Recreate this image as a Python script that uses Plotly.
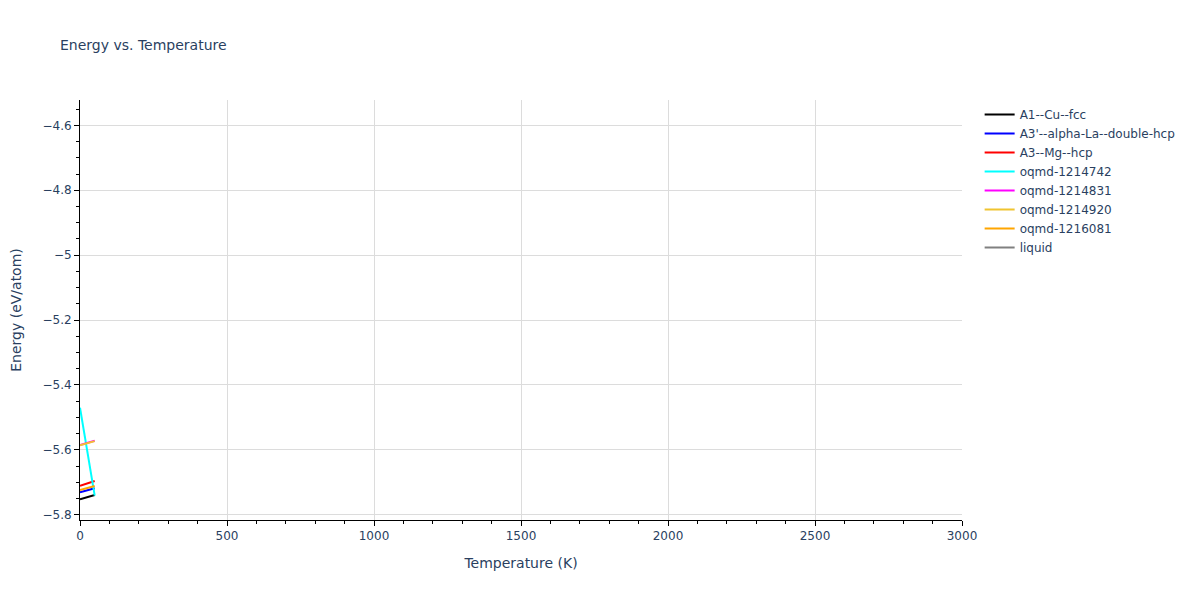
import plotly.graph_objects as go

# temperatura (K) y energía (eV/atom)
temperatura = [0, 50]

fases = ['A1--Cu--fcc', "A3'--alpha-La--double-hcp", 'A3--Mg--hcp', 'oqmd-1214742',
         'oqmd-1214831', 'oqmd-1214920', 'oqmd-1216081', 'liquid']
colores = ['black', 'blue', 'red', 'cyan', 'magenta', '#f0c430', 'orange', 'grey']

e_cu_fcc = [-5.752, -5.739]
e_la_dhcp = [-5.731, -5.718]
e_mg_hcp = [-5.711, -5.696]
e_1214742 = [-5.470, -5.741]
e_1214831 = [-5.585, -5.572]
e_1214920 = [-5.586, -5.573]
e_1216081 = [-5.724, -5.711]
e_liquid = [None]

energias = [e_cu_fcc, e_la_dhcp, e_mg_hcp, e_1214742, e_1214831, e_1214920, e_1216081, e_liquid]

fig = go.Figure()
for nombre, color, e in zip(fases, colores, energias):
    fig.add_trace(go.Scatter(x=temperatura[:len(e)], y=e, mode='lines', name=nombre,
                             line=dict(color=color, width=2)))

ejes = dict(showline=True, linecolor='black', linewidth=1, ticks='outside', tickcolor='black',
            gridcolor='#dcdcdc', zeroline=False, mirror=False)
fig.update_xaxes(title='Temperature (K)', range=[0, 3000], dtick=500,
                 minor=dict(ticks='outside', dtick=100, tickcolor='black', showgrid=False), **ejes)
fig.update_yaxes(title=dict(text='Energy (eV/atom)', standoff=24), range=[-5.816, -4.522], dtick=0.2,
                 minor=dict(ticks='outside', dtick=0.05, tickcolor='black', showgrid=False), **ejes)
# la página tiene 8px de margen, se compensa en los márgenes
fig.update_layout(title=dict(text='Energy vs. Temperature', font=dict(size=14), x=0.0433,
                             y=0.938, yanchor='middle'),
                  width=1200, height=600,
                  margin=dict(l=72, t=92, b=88, r=246, autoexpand=False),
                  plot_bgcolor='white', paper_bgcolor='white',
                  font=dict(family='DejaVu Sans, Verdana', size=12, color='#2a3f5f'))
fig.write_html('out.html')
